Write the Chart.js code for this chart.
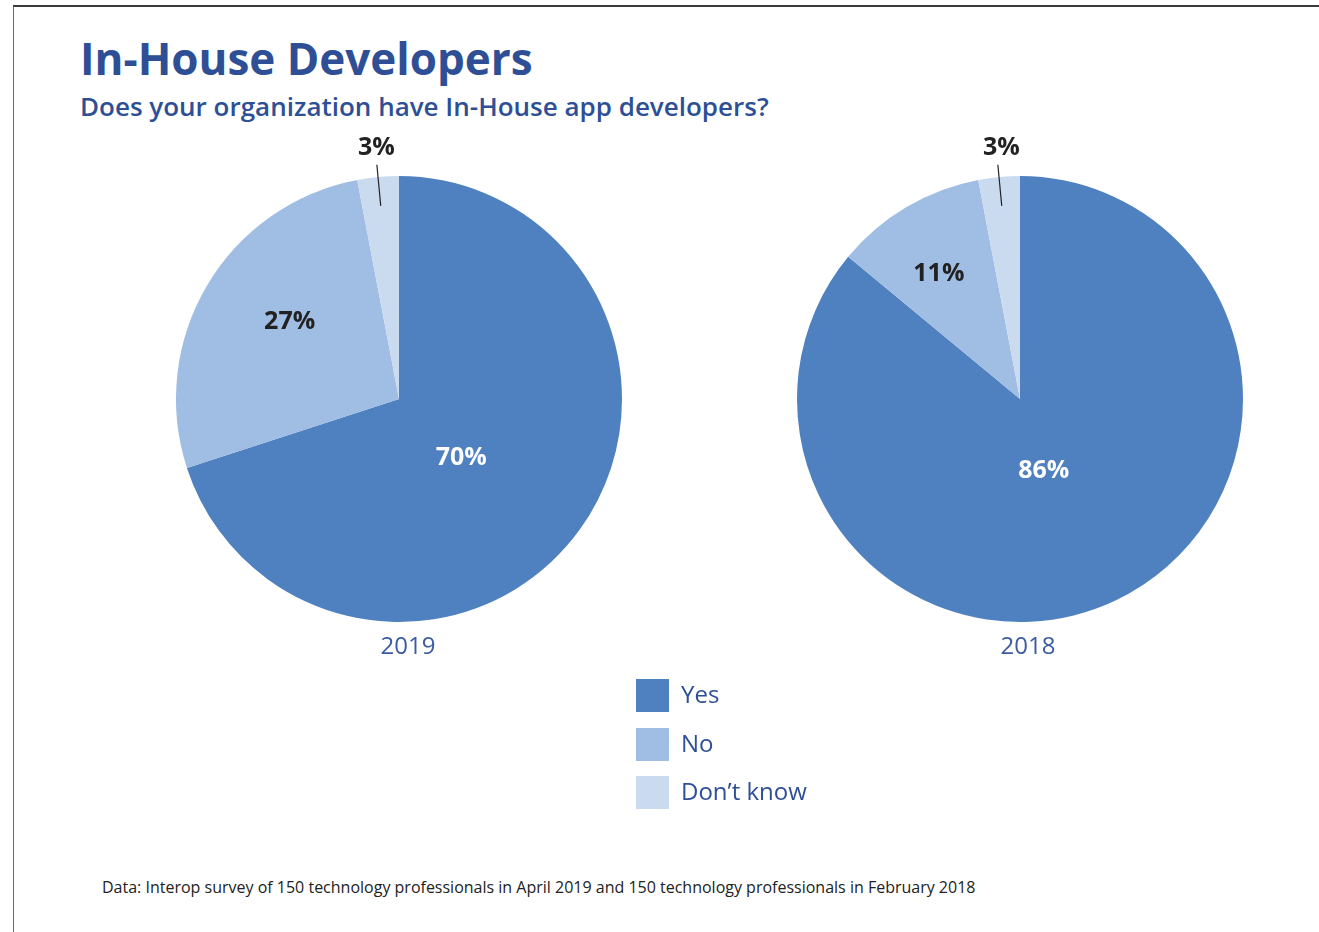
<!DOCTYPE html>
<html>
<head>
<meta charset="utf-8">
<title>In-House Developers</title>
<script src="https://cdn.jsdelivr.net/npm/chart.js@4/dist/chart.umd.min.js"></script>
<style>
  html, body { margin: 0; padding: 0; background: #fff; }
  body { width: 1319px; height: 932px; position: relative; overflow: hidden; font-family: "Open Sans", "Noto Sans", sans-serif; }
  .frame { position: absolute; left: 13px; top: 5px; right: -2px; bottom: -2px; border-top: 2px solid #3a3a3a; border-left: 1px solid #6a6a6a; }
  h1 { position: absolute; left: 80px; top: 36px; margin: 0; font-size: 44px; font-weight: 700; color: #2e4f96; line-height: 1; }
  h2 { position: absolute; left: 80px; top: 93px; margin: 0; font-size: 26px; font-weight: 600; color: #2e4f96; line-height: 1; }
  .pie { position: absolute; width: 560px; height: 560px; }
  .year { position: absolute; top: 633px; font-size: 24px; color: #3b5ca3; width: 120px; text-align: center; line-height: 1; }
  .legend { position: absolute; left: 636px; top: 679px; }
  .legend div { position: relative; height: 48.5px; font-size: 24px; color: #2e4f96; line-height: 30px; padding-left: 45px; }
  .legend span { position: absolute; left: 0; top: 0; width: 33px; height: 33px; }
  .note { position: absolute; left: 102px; top: 876px; font-size: 16px; color: #222; }
</style>
</head>
<body>
<div class="frame"></div>
<h1>In-House Developers</h1>
<h2>Does your organization have In-House app developers?</h2>

<canvas id="pie2019" class="pie" width="560" height="560" style="left:119px; top:119px;"></canvas>
<canvas id="pie2018" class="pie" width="560" height="560" style="left:740px; top:119px;"></canvas>

<div class="year" style="left:348px;">2019</div>
<div class="year" style="left:968px;">2018</div>

<div class="legend" id="legend"></div>

<div class="note">Data: Interop survey of 150 technology professionals in April 2019 and 150 technology professionals in February 2018</div>

<script>
// Survey answers, in percent
const categories = ["Yes", "No", "Don\u2019t know"];
const values2019 = [70, 27, 3];
const values2018 = [86, 11, 3];
const sliceColors = ["#4f81c1", "#a0bde3", "#cbdbef"];
const labelColors = ["#ffffff", "#222222", "#222222"];

// Build the legend from the categories
const legend = document.getElementById("legend");
categories.forEach((c, i) => {
  const row = document.createElement("div");
  const sw = document.createElement("span");
  sw.style.background = sliceColors[i];
  row.appendChild(sw);
  row.appendChild(document.createTextNode(c));
  legend.appendChild(row);
});

// Draws the percentage labels: inside for big slices, above with a leader line for small ones
const sliceLabels = {
  id: "sliceLabels",
  afterDatasetsDraw(chart, args, opts) {
    const ctx = chart.ctx;
    const meta = chart.getDatasetMeta(0);
    const data = chart.data.datasets[0].data;
    ctx.save();
    ctx.font = "bold 25px 'Open Sans', 'Noto Sans', sans-serif";
    ctx.textAlign = "center";
    ctx.textBaseline = "middle";
    meta.data.forEach((arc, i) => {
      const { x, y, startAngle, endAngle, outerRadius } = arc.getProps(["x", "y", "startAngle", "endAngle", "outerRadius"], true);
      const mid = (startAngle + endAngle) / 2 + (opts.angleShift[i] || 0);
      const f = opts.radius[i];
      const text = data[i] + "%";
      ctx.fillStyle = labelColors[i];
      if (f > 1) {
        // outside label with leader line
        ctx.strokeStyle = "#222";
        ctx.lineWidth = 1.2;
        ctx.beginPath();
        ctx.moveTo(x + Math.cos(mid) * outerRadius * 0.87, y + Math.sin(mid) * outerRadius * 0.87);
        ctx.lineTo(x + Math.cos(mid) * outerRadius * 1.055, y + Math.sin(mid) * outerRadius * 1.055);
        ctx.stroke();
        ctx.fillText(text, x + Math.cos(mid) * outerRadius * f + opts.textDx, y + Math.sin(mid) * outerRadius * f);
      } else {
        ctx.fillText(text, x + Math.cos(mid) * outerRadius * f, y + Math.sin(mid) * outerRadius * f);
      }
    });
    ctx.restore();
  }
};

function makePie(id, values, radius, angleShift, textDx) {
  return new Chart(document.getElementById(id), {
    type: "pie",
    data: {
      labels: categories,
      datasets: [{ data: values, backgroundColor: sliceColors, borderWidth: 0 }]
    },
    options: {
      responsive: false,
      animation: false,
      layout: { padding: 57 },
      plugins: {
        legend: { display: false },
        tooltip: { enabled: false },
        sliceLabels: { radius: radius, angleShift: angleShift, textDx: textDx }
      }
    },
    plugins: [sliceLabels]
  });
}

makePie("pie2019", values2019, [0.385, 0.6, 1.13], [0.13, 0.08, 0], 1);
makePie("pie2018", values2018, [0.34, 0.67, 1.13], [0.12, -0.04, 0], 5);
</script>
</body>
</html>
